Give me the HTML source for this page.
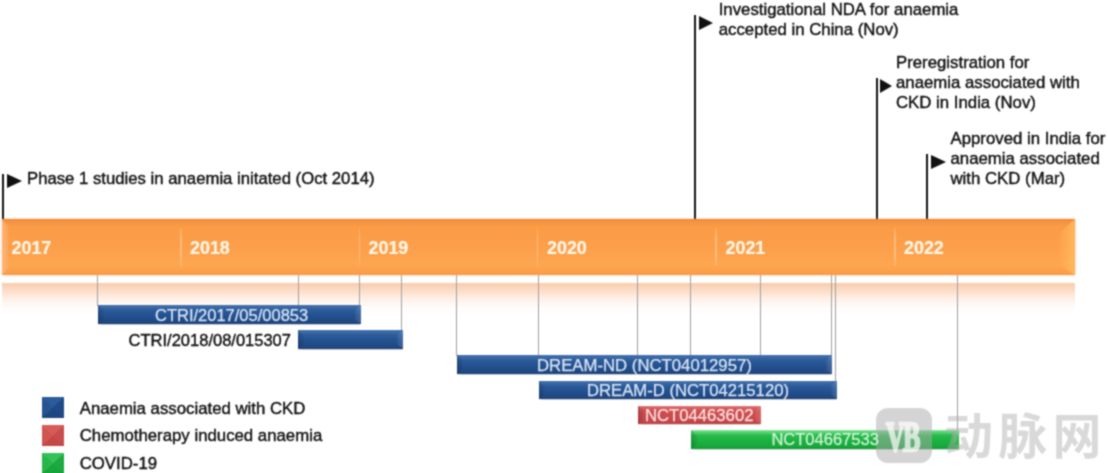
<!DOCTYPE html>
<html lang="en">
<head>
<meta charset="utf-8">
<title>Timeline</title>
<style>
html,body{margin:0;padding:0;background:#fff;}
body{width:1108px;height:473px;position:relative;overflow:hidden;font-family:"Liberation Sans","Noto Sans CJK SC",sans-serif;color:#222;}
#wrap{position:absolute;left:0;top:0;width:1108px;height:473px;overflow:hidden;background:#fff;filter:url(#soft);}
.abs{position:absolute;}
.t{position:absolute;white-space:nowrap;font-size:16.8px;line-height:20px;color:#111;-webkit-text-stroke:.4px #111;}
.pole{position:absolute;width:2px;background:#141414;}
.flag{position:absolute;width:0;height:0;border-style:solid;border-color:transparent transparent transparent #111;}
.vl{position:absolute;width:1px;background:#a29e9c;}
.bar{position:absolute;height:19.2px;box-sizing:border-box;}
.bar::before{content:"";position:absolute;left:0;top:0;width:6px;height:100%;background:linear-gradient(90deg,rgba(0,0,20,.16),rgba(0,0,20,.05));clip-path:polygon(0 0,100% 5px,100% calc(100% - 4px),0 100%);}
.bar::after{content:"";position:absolute;right:0;top:0;width:6px;height:100%;background:linear-gradient(90deg,rgba(255,255,255,.04),rgba(255,255,255,.16));clip-path:polygon(100% 0,0 5px,0 calc(100% - 4px),100% 100%);}
.bar span{position:absolute;white-space:nowrap;font-size:16.8px;line-height:19px;color:rgba(232,242,255,.9);-webkit-text-stroke:.25px rgba(232,242,255,.9);top:0.5px;z-index:1;}
.blue{background:linear-gradient(#4975b0 0%,#3b69a6 12%,#2c5b99 28%,#24518f 55%,#204a86 82%,#1c437d 100%);box-shadow:0 .5px 1px rgba(0,0,0,.18);}
.red{background:linear-gradient(#e07a7a 0%,#d45a5b 14%,#cd4d4f 35%,#c9484b 75%,#be4144 100%);box-shadow:0 .5px 1px rgba(0,0,0,.15);}
.green{background:linear-gradient(#8fe6a1 0%,#55d272 12%,#27ba4a 30%,#1bb040 60%,#17a83b 85%,#129e35 100%);box-shadow:0 .5px 1px rgba(0,0,0,.15);}
.yr{position:absolute;top:236.8px;font-weight:bold;font-size:17.9px;line-height:22px;color:#fff6e6;-webkit-text-stroke:.2px #fff6e6;}
.sep{position:absolute;top:228px;height:38px;width:1.5px;background:linear-gradient(rgba(255,205,150,.2),rgba(255,205,150,.6) 25%,rgba(255,205,150,.6) 75%,rgba(255,205,150,.2));}
.lg{position:absolute;left:41.5px;width:22.5px;height:21px;}
</style>
</head>
<body>
<svg width="0" height="0" style="position:absolute"><defs><filter id="soft" x="0" y="0" width="100%" height="100%" color-interpolation-filters="sRGB"><feConvolveMatrix order="3" kernelMatrix="1 2 1 2 6 2 1 2 1" divisor="18" edgeMode="duplicate" preserveAlpha="true"/></filter></defs></svg>
<div id="wrap">

<!-- reflection -->
<div class="abs" style="left:2px;top:283px;width:1072.5px;height:33px;background:linear-gradient(rgba(250,202,168,.97) 0%,rgba(251,210,182,.78) 22%,rgba(253,226,207,.5) 48%,rgba(254,241,232,.22) 74%,rgba(255,255,255,0) 100%);"></div>

<!-- vertical connector lines -->
<div class="vl" style="left:96.6px;top:275px;height:31px;"></div>
<div class="vl" style="left:298px;top:275px;height:31px;"></div>
<div class="vl" style="left:359px;top:275px;height:31px;"></div>
<div class="vl" style="left:401px;top:275px;height:56px;"></div>
<div class="vl" style="left:456px;top:275px;height:81px;"></div>
<div class="vl" style="left:538px;top:275px;height:81px;"></div>
<div class="vl" style="left:637px;top:275px;height:81px;"></div>
<div class="vl" style="left:690px;top:275px;height:81px;"></div>
<div class="vl" style="left:760px;top:275px;height:81px;"></div>
<div class="vl" style="left:831px;top:275px;height:81px;"></div>
<div class="vl" style="left:835.2px;top:275px;height:106px;"></div>
<div class="vl" style="left:957px;top:275px;height:156px;"></div>

<!-- flag poles -->
<div class="pole" style="left:1.7px;top:173.5px;height:47px;"></div>
<div class="pole" style="left:694.4px;top:14.5px;height:206px;"></div>
<div class="pole" style="left:875.7px;top:77.5px;height:143px;"></div>
<div class="pole" style="left:926.4px;top:153.5px;height:67px;"></div>
<div class="flag" style="left:6.7px;top:174.3px;border-width:7px 0 7px 15px;"></div>
<div class="flag" style="left:698.7px;top:15.8px;border-width:7.2px 0 7.2px 14.8px;"></div>
<div class="flag" style="left:879.5px;top:79.1px;border-width:7.4px 0 7.4px 12.4px;"></div>
<div class="flag" style="left:930.8px;top:154.5px;border-width:7.5px 0 7.5px 15px;"></div>

<!-- flag labels -->
<div class="t" style="left:27px;top:169px;font-size:16.73px;">Phase 1 studies in anaemia initated (Oct 2014)</div>
<div class="t" style="left:718.7px;top:0px;">Investigational NDA for anaemia</div>
<div class="t" style="left:718.7px;top:20px;">accepted in China (Nov)</div>
<div class="t" style="left:896px;top:53px;">Preregistration for</div>
<div class="t" style="left:896px;top:73.2px;">anaemia associated with</div>
<div class="t" style="left:896px;top:93.4px;">CKD in India (Nov)</div>
<div class="t" style="left:950.5px;top:129.2px;">Approved in India for</div>
<div class="t" style="left:950.5px;top:149.2px;">anaemia associated</div>
<div class="t" style="left:950.5px;top:169.2px;">with CKD (Mar)</div>

<!-- orange timeline bar -->
<div class="abs" id="tl" style="left:1.5px;top:219.2px;width:1073px;height:55.9px;background:linear-gradient(#e98a3e 0%,#f5933f 5%,#fb9b45 13%,#fc9f4b 50%,#fda651 82%,#fca04a 93%,#f89a46 100%);box-shadow:0 0 3px rgba(250,170,110,.55);overflow:hidden;">
  <div class="abs" style="left:0;top:0;width:7px;height:100%;background:linear-gradient(90deg,rgba(252,190,140,.75),rgba(252,175,110,.25));clip-path:polygon(0 0,100% 7px,100% calc(100% - 6px),0 100%);"></div>
  <div class="abs" style="right:0;top:0;width:16px;height:100%;background:linear-gradient(90deg,rgba(255,172,84,.15),rgba(255,186,94,.95));clip-path:polygon(100% 0,0 15px,0 calc(100% - 11px),100% 100%);"></div>
</div>
<div class="sep" style="left:180px;"></div>
<div class="sep" style="left:358.5px;"></div>
<div class="sep" style="left:536.5px;"></div>
<div class="sep" style="left:715px;"></div>
<div class="sep" style="left:894px;"></div>
<div class="yr" style="left:11.5px;">2017</div>
<div class="yr" style="left:190px;">2018</div>
<div class="yr" style="left:368.5px;">2019</div>
<div class="yr" style="left:547px;">2020</div>
<div class="yr" style="left:725.5px;">2021</div>
<div class="yr" style="left:904px;">2022</div>

<!-- study bars -->
<div class="bar blue" style="left:97.5px;top:304.7px;width:263.5px;"><span style="left:57.5px;top:1px;font-size:16.5px;">CTRI/2017/05/00853</span></div>
<div class="t" style="left:128.6px;top:330.6px;line-height:19px;font-size:16.5px;">CTRI/2018/08/015307</div>
<div class="bar blue" style="left:298px;top:330px;width:105px;height:18.5px;"></div>
<div class="bar blue" style="left:456.5px;top:355px;width:375.5px;"><span style="left:80.5px;font-size:16.74px;">DREAM-ND (NCT04012957)</span></div>
<div class="bar blue" style="left:538.5px;top:380.7px;width:298.7px;height:18.4px;"><span style="left:48.5px;font-size:16.68px;">DREAM-D (NCT04215120)</span></div>
<div class="bar red" style="left:637.5px;top:405.5px;width:123.5px;height:18.7px;"><span style="left:7.5px;top:0;font-size:16.68px;color:rgba(255,240,238,.9);-webkit-text-stroke:.25px rgba(255,240,238,.9);">NCT04463602</span></div>
<div class="bar green" style="left:691px;top:430.1px;width:267.5px;height:19px;"><span style="left:80.4px;top:.4px;font-size:16.52px;color:rgba(240,255,242,.8);-webkit-text-stroke:.25px rgba(240,255,242,.8);">NCT04667533</span></div>

<!-- legend -->
<div class="lg" style="top:397px;background:conic-gradient(from -47deg at 50% 50%,#2c5a9a 0 94deg,#1f4a87 94deg 180deg,#1e4681 180deg 274deg,#275390 274deg 360deg);"></div>
<div class="lg" style="top:425px;background:conic-gradient(from -47deg at 50% 50%,#d65b59 0 94deg,#c94d4b 94deg 180deg,#c44846 180deg 274deg,#d05452 274deg 360deg);"></div>
<div class="lg" style="top:453px;background:conic-gradient(from -47deg at 50% 50%,#34c157 0 94deg,#1cab41 94deg 180deg,#18a53c 180deg 274deg,#27b64b 274deg 360deg);"></div>
<div class="t" style="left:79.7px;top:398.5px;">Anaemia associated with CKD</div>
<div class="t" style="left:79.7px;top:426px;">Chemotherapy induced anaemia</div>
<div class="t" style="left:79.7px;top:454.2px;">COVID-19</div>

<!-- watermark -->
<div class="abs" style="left:876px;top:408px;width:56px;height:55px;border-radius:12px;background:rgba(170,170,170,.5);"></div>
<div class="abs" style="left:886px;top:413.5px;width:58px;height:46px;font-weight:bold;font-size:42px;line-height:46px;letter-spacing:-3px;color:#fff;-webkit-text-stroke:2.6px #fff;opacity:.7;font-family:'Liberation Serif',serif;transform-origin:0 0;transform:scaleX(.62);white-space:nowrap;">VB</div>
<div class="abs" style="left:944px;top:402.3px;font-size:49px;line-height:70px;letter-spacing:5.2px;color:rgba(170,170,170,.45);font-weight:700;white-space:nowrap;font-family:'Liberation Sans','Noto Sans CJK SC',sans-serif;">动脉网</div>

</div>
</body>
</html>
